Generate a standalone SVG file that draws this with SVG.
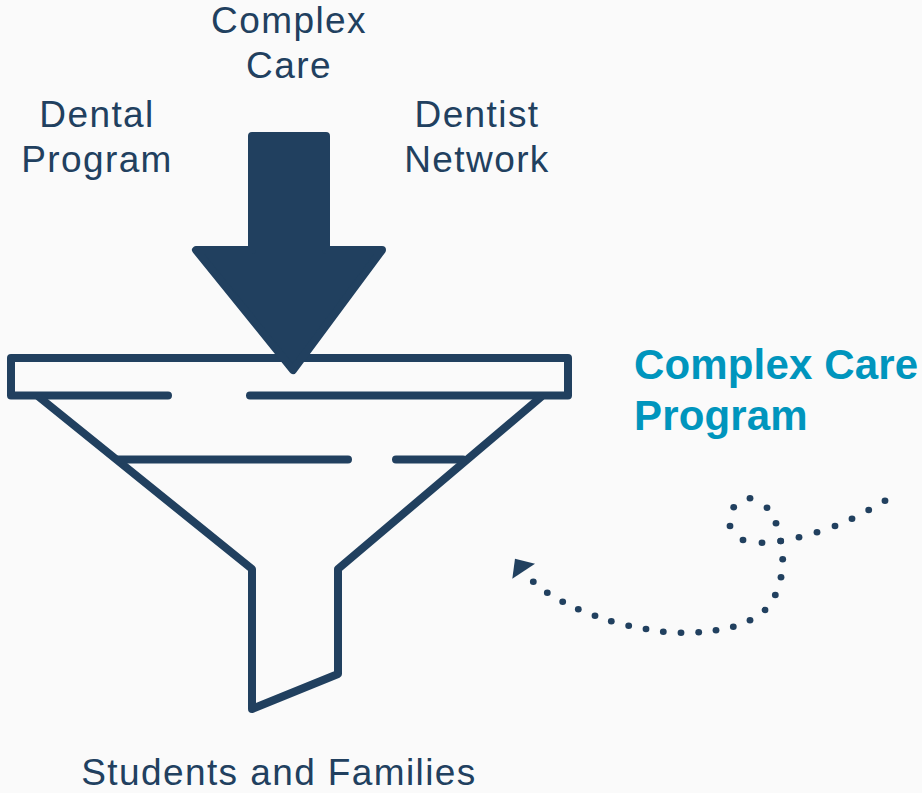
<svg xmlns="http://www.w3.org/2000/svg" width="922" height="793" viewBox="0 0 922 793">
<style>
text{font-family:"Liberation Sans",Arial,sans-serif}
.l{font-size:37px;fill:#21405f;text-anchor:middle;letter-spacing:1.4px}
.t{font-size:42px;font-weight:700;fill:#0095bd;letter-spacing:.15px}
.s{fill:none;stroke:#21405f;stroke-width:8;stroke-linecap:round;stroke-linejoin:round}
</style>
<defs><marker id="dot" markerUnits="userSpaceOnUse" markerWidth="8" markerHeight="8" refX="4" refY="4" overflow="visible"><ellipse cx="4" cy="4" rx="3.4" ry="3.2" fill="#21405f"/></marker></defs>
<rect width="922" height="793" fill="#fafafa"/>
<g id="funnel">
<path class="s" d="M168 395.500H11V358H568V395.500H250"/>
<path class="s" d="M39 397L252 569V709L338 674V569L541 397"/>
<path class="s" d="M118 459.500H348M396 459.500H463"/>
</g>
<g id="arrow"><path d="M252 136H326V250H382L293 370L196 250H252Z" fill="#21405f" stroke="#21405f" stroke-width="8" stroke-linejoin="round"/></g>
<g id="complex-care"><text class="l" x="289" y="33">Complex</text><text class="l" x="289" y="78">Care</text></g>
<g id="dental-program"><text class="l" x="97" y="127">Dental</text><text class="l" x="97" y="172">Program</text></g>
<g id="dentist-network"><text class="l" x="477" y="127">Dentist</text><text class="l" x="477" y="172">Network</text></g>
<g id="students"><text class="l" x="279" y="785">Students and Families</text></g>
<g id="complex-care-program"><text class="t" x="634" y="378.500">Complex Care</text><text class="t" x="634" y="429.500">Program</text></g>
<g id="connectors">
<path fill="none" stroke="none" marker-start="url(#dot)" marker-mid="url(#dot)" marker-end="url(#dot)" d="M885 500.700L868.700 510L852 518.700L835 526L817 532.300L799 537.300L780.700 541L762 542.700L743 540L730 526L733.700 507.300L750 498.300L767 507.700L776 523.300L780.700 541L782.700 559.300L781 577.300L775.300 595L765 610L750 620.300L733.300 626.700L716 630.300L698.700 632.300L681 632.700L663.300 631.700L646 629L628.700 625.700L611.300 621.300L595 615.700L578.300 609.300L562.700 601.700L547.300 592.700L533.300 581.700"/>
<polygon points="515,558.700 535,563.700 512.300,578.700" fill="#21405f"/>
</g>
</svg>
